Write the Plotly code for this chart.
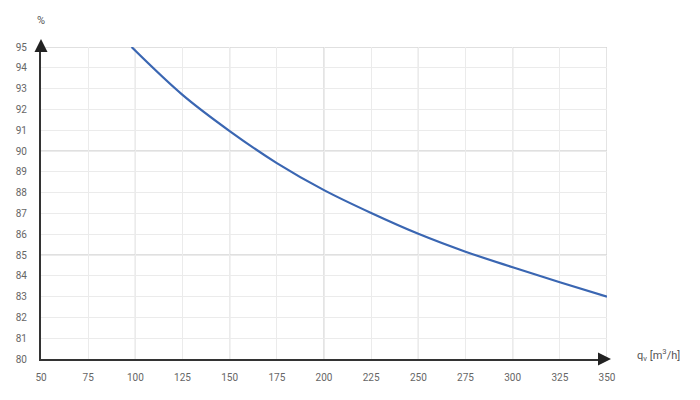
import plotly.graph_objects as go

# Data
flow = [98, 125, 150, 175, 200, 225, 250, 275, 300, 325, 350]
efficiency = [95.0, 92.7, 90.96, 89.42, 88.12, 87.02, 86.02, 85.16, 84.41, 83.69, 83.0]

x_ticks = list(range(50, 351, 25))
y_ticks = list(range(80, 96, 1))
x_major = list(range(100, 351, 50))
y_major = list(range(85, 96, 5))

W, H = 700, 400
# page body has an 8px margin, so shift the plot area accordingly
L, R, T, B = 33, 101, 39, 49
PW, PH = W - L - R, H - T - B

fig = go.Figure()
fig.add_trace(go.Scatter(x=flow, y=efficiency, mode="lines",
                         line=dict(color="#3a66b2", width=2.2, shape="spline", smoothing=1.0),
                         hoverinfo="x+y", showlegend=False))

shapes = []
for xv in x_major:
    shapes.append(dict(type="line", xref="x", yref="y", x0=xv, x1=xv, y0=80, y1=95,
                       line=dict(color="#d6d6d6", width=1.3), layer="below"))
for yv in y_major:
    shapes.append(dict(type="line", xref="x", yref="y", x0=50, x1=350, y0=yv, y1=yv,
                       line=dict(color="#d6d6d6", width=1.3), layer="below"))

tick_font = dict(family="Roboto, 'DejaVu Sans', sans-serif", size=10, color="#666666")

fig.update_layout(
    width=W, height=H,
    margin=dict(l=L, r=R, t=T, b=B, autoexpand=False),
    paper_bgcolor="white", plot_bgcolor="white",
    shapes=shapes,
    xaxis=dict(range=[50, 350], tickvals=x_ticks, ticktext=[str(v) for v in x_ticks],
               showgrid=True, gridcolor="#ebebeb", gridwidth=1,
               showline=True, linecolor="#333333", linewidth=2,
               zeroline=False, ticks="", ticklabelstandoff=8, tickfont=tick_font,
               fixedrange=True),
    yaxis=dict(range=[80, 95], tickvals=y_ticks, ticktext=[str(v) for v in y_ticks],
               showgrid=True, gridcolor="#ebebeb", gridwidth=1,
               showline=True, linecolor="#333333", linewidth=2,
               zeroline=False, ticks="", ticklabelstandoff=10, tickfont=tick_font,
               fixedrange=True),
    annotations=[
        # y-axis arrowhead
        dict(xref="paper", yref="paper", x=0, y=1 + 8 / PH, ax=0, ay=14,
             axref="pixel", ayref="pixel", text="", showarrow=True,
             arrowhead=2, arrowsize=1.3, arrowwidth=2, arrowcolor="#222222", standoff=0),
        # x-axis arrowhead
        dict(xref="paper", yref="paper", x=1 + 4 / PW, y=0, ax=-14, ay=0,
             axref="pixel", ayref="pixel", text="", showarrow=True,
             arrowhead=2, arrowsize=1.3, arrowwidth=2, arrowcolor="#222222", standoff=0),
        dict(xref="paper", yref="paper", x=0, y=1 + 27 / PH, xanchor="center", yanchor="middle",
             text="%", showarrow=False,
             font=dict(family="Roboto, 'DejaVu Sans', sans-serif", size=11, color="#555555")),
        dict(xref="paper", yref="paper", x=1 + 28 / PW, y=4 / PH, xanchor="left", yanchor="middle",
             text="q<sub>v</sub> [m<sup>3</sup>/h]", showarrow=False,
             font=dict(family="Roboto, 'DejaVu Sans', sans-serif", size=11, color="#555555")),
    ],
)

fig.write_html("out.html")
